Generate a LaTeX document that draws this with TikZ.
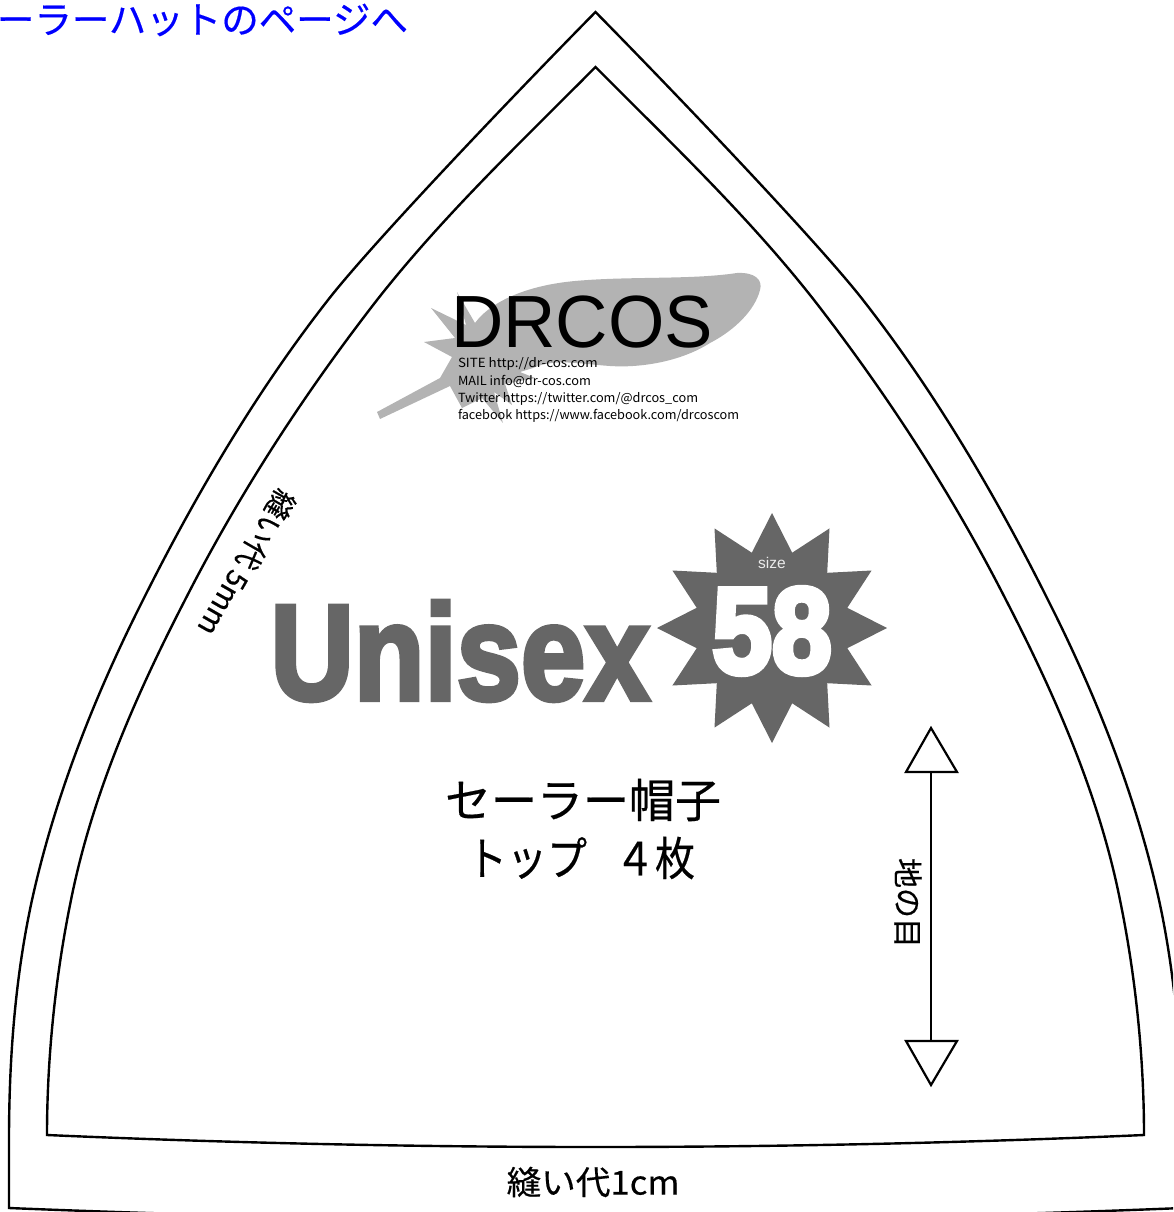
\documentclass[tikz,border=0pt]{standalone}
\usepackage{fontspec}
\setmainfont{Liberation Sans}
\newfontfamily\cjk[FakeBold=0.4]{Noto Sans CJK JP}
\newfontfamily\heavy[FakeBold=3.5]{Liberation Sans Bold}
\newfontfamily\heavier[FakeBold=5]{Liberation Sans Bold}
\newfontfamily\infofont{Noto Sans CJK JP}
\newcommand{\fsz}[1]{\fontsize{#1pt}{#1pt}\selectfont}
\definecolor{darkgr}{HTML}{666666}
\definecolor{birdgr}{HTML}{B3B3B3}
\definecolor{linkblue}{HTML}{0000FF}
\tikzset{
  pattern line/.style={draw=black,line width=2.4pt,line join=miter,miter limit=10},
  txt/.style={inner sep=0pt,outer sep=0pt,text=black},
  infoline/.style={txt,anchor=west,font=\infofont\fsz{12.6}},
  grainhead/.style={draw=black,fill=white,line width=2.2pt,line join=miter},
}
\begin{document}
\begin{tikzpicture}[x=1pt,y=-1pt]
\useasboundingbox (0,0) rectangle (1173,1212);
\clip (0,0) rectangle (1173,1212);
% outer seam allowance
\draw[pattern line] (595.5,12)
  .. controls (506,103) and (370,246) .. (328,300)
  .. controls (256,392) and (195,496) .. (143,600)
  .. controls (95,695) and (55,796) .. (32,900)
  .. controls (15,978) and (9,1060) .. (9,1140)
  -- (9,1208)
  .. controls (400,1224) and (791,1224) .. (1182,1208)
  -- (1182,1140)
  .. controls (1182,1060) and (1176,978) .. (1159,900)
  .. controls (1136,796) and (1096,695) .. (1048,600)
  .. controls (996,496) and (935,392) .. (863,300)
  .. controls (821,246) and (685,103) .. (595.5,12) -- cycle;
% inner sewing line
\draw[pattern line] (595.5,67)
  .. controls (520,143) and (443,216) .. (377,300)
  .. controls (304,394) and (239,494) .. (185,600)
  .. controls (136,695) and (92,795) .. (71,900)
  .. controls (55,978) and (47,1060) .. (47,1135)
  .. controls (412,1151) and (779,1151) .. (1144,1135)
  .. controls (1144,1060) and (1136,978) .. (1120,900)
  .. controls (1099,795) and (1055,695) .. (1006,600)
  .. controls (952,494) and (887,394) .. (814,300)
  .. controls (748,216) and (671,143) .. (595.5,67) -- cycle;
% bird
\fill[birdgr] (475,323) .. controls (492,300) and (530,285) .. (575,281)
  .. controls (630,276) and (690,280) .. (737,273)
  .. controls (755,272) and (763,280) .. (760,290)
  .. controls (755,310) and (735,330) .. (710,343)
  .. controls (680,362) and (640,368) .. (610,366)
  .. controls (580,364) and (555,358) .. (533,368)
  -- (520,372) -- (535,378) -- (505,384) -- (512,405) -- (494,392) -- (503,423) -- (482,398) -- (462,408) -- (450,386)
  -- (380,419) -- (377,412) -- (440,378) -- (452,357) -- (424,342) -- (455,338) -- (431,308) -- (466,325) -- (457,292) -- cycle;
% star
\fill[darkgr] (887,628) -- (847.3,648.2) -- (871.6,685.5) -- (827.2,683.2) -- (829.5,727.6) -- (792.2,703.3) -- (772,743)
  -- (751.8,703.3) -- (714.5,727.6) -- (716.8,683.2) -- (672.4,685.5) -- (696.7,648.2) -- (657,628)
  -- (696.7,607.8) -- (672.4,570.5) -- (716.8,572.8) -- (714.5,528.4) -- (751.8,552.7) -- (772,513)
  -- (792.2,552.7) -- (829.5,528.4) -- (827.2,572.8) -- (871.6,570.5) -- (847.3,607.8) -- cycle;
% texts
\node[txt,anchor=west,text=linkblue,font=\cjk\fsz{37.5}] (link) at (-3,20) {ーラーハットのページへ};
\node[txt,font=\fsz{74},xscale=0.98] (drcos) at (582,322) {DRCOS};
\node[infoline,xscale=1.06] (site) at (458,363.5) {SITE http://dr-cos.com};
\node[infoline,xscale=1.015] (mail) at (458,381) {MAIL info@dr-cos.com};
\node[infoline,xscale=1.012] (tw) at (458,398.5) {Twitter https://twitter.com/@drcos\_com};
\node[infoline,xscale=1.007] (fb) at (458,416) {facebook https://www.facebook.com/drcoscom};
\node[txt,text=darkgr,font=\heavy\fsz{136},xscale=0.85] (unisex) at (460,651) {Unisex};
\node[txt,text=white,font=\heavier\fsz{122},xscale=0.88] (num) at (772,631) {58};
\node[txt,text=white!92!black,font=\fsz{15.5}] (size) at (772,563) {size};
\node[txt,font=\cjk\fsz{46}] (title) at (583,800) {セーラー帽子};
\node[txt,font=\cjk\fsz{46},xscale=0.87] (sub) at (581,858) {トップ\hspace{-14pt}　４枚};
\node[txt,font=\cjk\fsz{30},rotate=-90] (grain) at (908,903) {地の目};
\node[txt,font=\cjk\fsz{29},rotate=-120] (sa5) at (247,563) {縫い代 5mm};
\node[txt,font=\cjk\fsz{33},xscale=1.05] (sa1) at (593,1182) {縫い代1cm};
% grain arrow
\coordinate (gt) at (931,772);
\coordinate (gb) at (931,1041);
\draw[line width=2.2pt] (gt) -- (gb);
\draw[grainhead] (931,728) -- (906,772) -- (957,772) -- cycle;
\draw[grainhead] (931,1085) -- (906,1041) -- (957,1041) -- cycle;
\end{tikzpicture}
\end{document}
